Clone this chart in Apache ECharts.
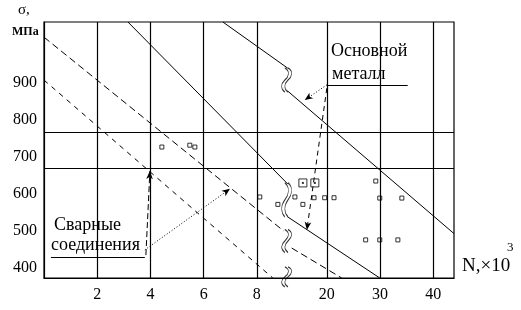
<!DOCTYPE html>
<html><head><meta charset="utf-8">
<script src="https://cdn.jsdelivr.net/npm/echarts@6/dist/echarts.min.js"></script>
<style>html,body{margin:0;padding:0;background:#fff}#c{width:521px;height:310px}</style>
</head><body><div id="c"></div>
<script>
// Broken N axis: values are positions on the drawn scale (2..8 linear, then 20,30,40)
const xTickPos = [2, 4, 6, 8, 10.63, 12.63, 14.63];
const xTickLabels = ['2', '4', '6', '8', '20', '30', '40'];
const yTicks = [400, 500, 600, 700, 800, 900];
const hGridLevels = [670, 768];
const xRange = [0, 15.41];
const yRange = [373, 1065];

// fatigue curves (two pieces each, split at the axis break)
const baseMetalUpper1 = [[6.723, 1065], [9.164, 940]];
const baseMetalUpper2 = [[9.164, 878], [15.41, 493]];
const baseMetalLower1 = [[3.155, 1065], [9.164, 627]];
const baseMetalLower2 = [[9.164, 538], [12.62, 373]];
const weldUpper1 = [[0, 1024], [9.01, 500]];
const weldUpper2 = [[9.31, 454], [11.19, 373]];
const weldLower = [[0, 908], [8.60, 373]];

// axis-break marks on the curves
const breakMarks = [[9.12, 908], [9.12, 584], [9.12, 473], [9.12, 376]];

// test points
const boxPoints = [[9.73, 630], [10.18, 630]];
const otherPoints = [[8.11, 592], [9.43, 592], [10.15, 590], [10.55, 590], [10.9, 590],
  [8.79, 572], [9.73, 572], [12.47, 635], [12.62, 589], [13.45, 589],
  [12.09, 476], [12.62, 476], [13.30, 476], [4.43, 727], [5.48, 732], [5.67, 727]];

// annotation leaders (axis units)
const baseLabelLine = [[10.63, 895], [13.67, 895]];
const baseLeaderA = [[10.63, 895], [9.80, 854]];
const baseLeaderB = [[10.63, 886], [9.88, 503]];
const weldLabelLine = [[0.26, 430], [3.79, 430]];
const weldLeaderA = [[3.83, 435], [3.98, 662]];
const weldLeaderB = [[3.79, 449], [6.99, 614]];

const F = 'Liberation Serif';
const chart = echarts.init(document.getElementById('c'));

function seg(d, type) {
  return { type: 'line', data: d, symbol: 'none', silent: true, z: 3,
    lineStyle: { color: '#000', width: 1, type: type || 'solid' } };
}
function lead(d, type, arrow) {
  return [{ coord: d[0], symbol: 'none' },
          { coord: d[1], symbol: arrow ? 'arrow' : 'none', symbolSize: [5, 8],
            lineStyle: { type: type } }];
}
function txt(t, left, top, size, weight) {
  return { type: 'text', left: left, top: top,
    style: { text: t, fontFamily: F, fontSize: size, fontWeight: weight || 'normal', fill: '#000' } };
}
const breakPath = 'path://M5,0 C10,4 9,10 5,15 C1,20 1,26 5,30 M8,0 C13,4 12,10 8,15 C4,20 4,26 8,30';

const option = {
  animation: false,
  backgroundColor: '#fff',
  grid: { left: 44, top: 22, width: 410, height: 256, show: true, borderColor: '#000', borderWidth: 1.2 },
  xAxis: {
    type: 'value', min: xRange[0], max: xRange[1],
    axisLine: { show: true, lineStyle: { color: '#000', width: 1.2 } },
    axisTick: { show: false }, splitLine: { show: false },
    axisLabel: { customValues: xTickPos, margin: 9, color: '#000', fontFamily: F, fontSize: 16,
      formatter: v => { const i = xTickPos.findIndex(p => Math.abs(p - v) < 1e-6); return i >= 0 ? xTickLabels[i] : ''; } }
  },
  yAxis: {
    type: 'value', min: yRange[0], max: yRange[1],
    axisLine: { show: true, lineStyle: { color: '#000', width: 1.2 } },
    axisTick: { show: false }, splitLine: { show: false },
    axisLabel: { customValues: yTicks, margin: 7, color: '#000', fontFamily: F, fontSize: 16 }
  },
  graphic: [
    txt('σ,', 18, 3, 15), txt('МПа', 12, 26, 12, 'bold'),
    txt('Основной', 331, 42, 18), txt('металл', 332, 65, 18),
    txt('Сварные', 54, 216, 18), txt('соединения', 51, 236, 18),
    txt('N,×10', 462, 257, 19), txt('3', 507, 241, 13)
  ],
  series: [
    { type: 'line', data: [], silent: true, symbol: 'none',
      markLine: { silent: true, symbol: 'none', label: { show: false },
        lineStyle: { color: '#000', width: 1.2, type: 'solid' },
        data: xTickPos.map(v => ({ xAxis: v })).concat(hGridLevels.map(v => ({ yAxis: v }))) } },
    seg(baseMetalUpper1), seg(baseMetalUpper2), seg(baseMetalLower1), seg(baseMetalLower2),
    seg(weldUpper1, [7, 4]), seg(weldUpper2, [7, 4]), seg(weldLower, [5, 5]),
    { type: 'line', data: [], silent: true, symbol: 'none',
      markLine: { silent: true, label: { show: false },
        lineStyle: { color: '#000', width: 1 },
        data: [lead(baseLabelLine, 'solid'), lead(baseLeaderA, [1, 2], true), lead(baseLeaderB, [5, 4], true),
               lead(weldLabelLine, 'solid'), lead(weldLeaderA, [6, 3], true), lead(weldLeaderB, [1, 2], true)] } },
    { type: 'scatter', data: breakMarks, silent: true, z: 5,
      symbol: breakPath, symbolSize: (v, p) => [10, [24, 34, 23, 20][p.dataIndex]],
      itemStyle: { color: 'none', borderColor: '#000', borderWidth: 1 } },
    { type: 'scatter', data: boxPoints, silent: true, symbol: 'rect', symbolSize: 8,
      itemStyle: { color: '#fff', borderColor: '#000', borderWidth: 1 } },
    { type: 'scatter', data: boxPoints, silent: true, symbol: 'rect', symbolSize: 2, z: 4,
      itemStyle: { color: '#000' } },
    { type: 'scatter', data: otherPoints, silent: true, symbol: 'rect', symbolSize: 4,
      itemStyle: { color: '#fff', borderColor: '#000', borderWidth: 1 } }
  ]
};
chart.setOption(option);
</script></body></html>
